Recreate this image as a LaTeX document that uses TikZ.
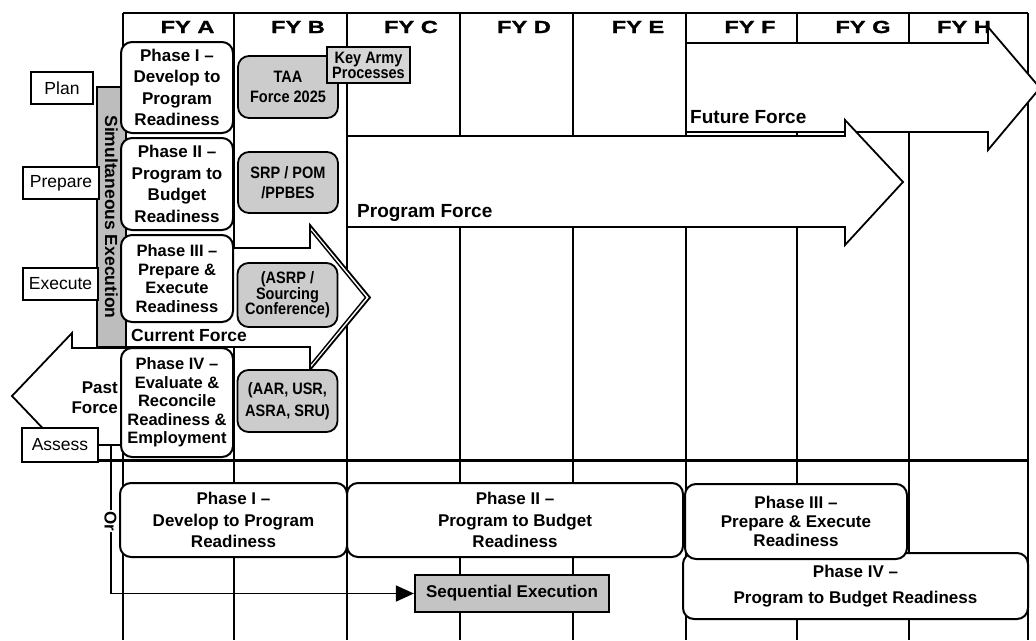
\documentclass[tikz,border=0pt]{standalone}
\usepackage{fontspec}
\setmainfont{Liberation Sans}
\newfontfamily\fyfont[FakeStretch=1.35,FakeBold=1.2]{Liberation Sans}
\newfontfamily\condfont[FakeStretch=0.88]{Liberation Sans}
\usetikzlibrary{arrows.meta}
\definecolor{boxgray}{gray}{0.80}
\definecolor{bargray}{gray}{0.74}
\definecolor{keygray}{gray}{0.84}
\definecolor{seqgray}{gray}{0.77}
\begin{document}
\begin{tikzpicture}[x=1pt,y=-1pt,
  gridline/.style={line width=1.5pt},
  phasebox/.style={draw, line width=2pt, rounded corners=11pt, fill=white, align=center, inner sep=0pt, font=\fontsize{17}{21.5}\selectfont\bfseries},
  graybox/.style={draw, line width=1.8pt, rounded corners=11pt, fill=boxgray, align=center, inner sep=0pt, font=\fontsize{16.5}{20}\condfont\bfseries},
  labelbox/.style={draw, line width=1.8pt, fill=white, inner sep=0pt, font=\fontsize{17.5}{20}\selectfont},
  bigarrow/.style={draw, line width=1.8pt, fill=white, line join=miter},
  fylabel/.style={font=\fontsize{17.5}{20}\fyfont\bfseries},
  forcetext/.style={font=\fontsize{19}{22}\selectfont\bfseries, inner sep=0pt}]
\clip (0,0) rectangle (1036,640);
\fill[white] (0,0) rectangle (1036,640);
% grid
\foreach \x in {123,234,347,460,573,686,797,909,1028}
  \draw[gridline] (\x,13) -- (\x,640);
\draw[gridline] (123,13) -- (1028,13);
\draw[line width=3pt] (98,460) -- (1028,460);
% year labels
\node[fylabel] (fya) at (187.5,27) {FY A};
\node[fylabel] (fyb) at (298,27) {FY B};
\node[fylabel] (fyc) at (411,27) {FY C};
\node[fylabel] (fyd) at (524,27) {FY D};
\node[fylabel] (fye) at (638,27) {FY E};
\node[fylabel] (fyf) at (750,27) {FY F};
\node[fylabel] (fyg) at (863,27) {FY G};
\node[fylabel] (fyh) at (964,27) {FY H};
% future force arrow
\draw[bigarrow] (686,43) -- (988,43) -- (988,27) -- (1040,88) -- (988,150) -- (988,132) -- (686,132) -- cycle;
\node[forcetext, anchor=west] (future) at (690,117) {Future Force};
% program force arrow
\draw[bigarrow] (347,136) -- (845,136) -- (845,120) -- (903,182) -- (845,245) -- (845,227) -- (347,227) -- cycle;
\node[forcetext, anchor=west] (program) at (357,213) {Program Force};
% past force arrow
\draw[bigarrow] (126,348) -- (72,348) -- (72,333) -- (12,396) -- (72,459) -- (72,445) -- (126,445) -- cycle;
\node[font=\fontsize{17}{20}\selectfont\bfseries, align=right, anchor=east, inner sep=0pt] (past) at (118,398) {Past\\Force};
% current force arrow
\draw[bigarrow] (126,248) -- (310,248) -- (310,225) -- (370,297.5) -- (310,370) -- (310,347) -- (126,347) -- cycle;
\draw[line width=1.4pt, line join=miter] (311,231) -- (365.5,297.5) -- (311,364);
\node[font=\fontsize{17.5}{20}\selectfont\bfseries, anchor=west, inner sep=0pt] (current) at (131,335) {Current Force};
% simultaneous execution bar
\node[draw, line width=1.5pt, fill=bargray, rotate=-90, minimum width=260pt, minimum height=29pt, inner sep=0pt, font=\fontsize{17.5}{20}\selectfont\bfseries] (sim) at (111.5,217) {Simultaneous Execution};
% phase boxes (upper)
\node[phasebox, minimum width=112pt, minimum height=91pt] (p1) at (177,87.5) {Phase I –\\Develop to\\Program\\Readiness};
\node[phasebox, minimum width=112pt, minimum height=92pt] (p2) at (177,184) {Phase II –\\Program to\\Budget\\Readiness};
\node[phasebox, minimum width=112pt, minimum height=87pt, font=\fontsize{16.5}{18.7}\selectfont\bfseries] (p3) at (177,278.5) {Phase III –\\Prepare \&\\Execute\\Readiness};
\node[phasebox, minimum width=112pt, minimum height=109pt, font=\fontsize{16.5}{18.5}\selectfont\bfseries] (p4) at (177,402.5) {Phase IV –\\Evaluate \&\\Reconcile\\Readiness \&\\Employment};
% key army processes boxes
\node[graybox, minimum width=100pt, minimum height=62pt] (taa) at (288,87) {TAA\\Force 2025};
\node[graybox, minimum width=100pt, minimum height=61pt] (srp) at (288,182.5) {SRP / POM\\/PPBES};
\node[graybox, minimum width=100pt, minimum height=64pt, font=\fontsize{16.5}{15.5}\condfont\bfseries] (asrp) at (287.5,295) {(ASRP /\\Sourcing\\Conference)};
\node[graybox, minimum width=100pt, minimum height=62pt, font=\fontsize{16.5}{21.5}\condfont\bfseries] (aar) at (287.5,401) {(AAR, USR,\\ASRA, SRU)};
\node[draw, line width=1.8pt, fill=keygray, minimum width=83pt, minimum height=36pt, inner sep=0pt, align=center, font=\fontsize{16.5}{15}\condfont\bfseries] (key) at (368.5,65) {Key Army\\Processes};
% left labels
\node[labelbox, minimum width=62pt, minimum height=32pt] (plan) at (62,88) {Plan};
\node[labelbox, minimum width=76pt, minimum height=32pt] (prepare) at (61,183) {Prepare};
\node[labelbox, minimum width=75pt, minimum height=32pt] (execute) at (60.5,284) {Execute};
\node[labelbox, minimum width=76pt, minimum height=34pt] (assess) at (60,445) {Assess};
% lower section
\node[phasebox, minimum width=227pt, minimum height=74pt] (bp1) at (233.5,520) {Phase I –\\Develop to Program\\Readiness};
\node[phasebox, minimum width=336pt, minimum height=74pt] (bp2) at (515,520) {Phase II –\\Program to Budget\\Readiness};
\node[phasebox, minimum width=345pt, minimum height=66pt, font=\fontsize{17}{26}\selectfont\bfseries] (bp4) at (855.5,586) {Phase IV –\\Program to Budget Readiness};
\node[phasebox, minimum width=222pt, minimum height=75pt, font=\fontsize{17}{19}\selectfont\bfseries] (bp3) at (796,521.5) {Phase III –\\Prepare \& Execute\\Readiness};
\node[draw, line width=2.2pt, fill=seqgray, minimum width=194pt, minimum height=37pt, inner sep=0pt, font=\fontsize{17}{20}\selectfont\bfseries] (seq) at (512,593.5) {Sequential Execution};
\draw[line width=1.5pt, -{Triangle[length=18pt,width=16pt]}] (assess.east) -- ++(12,0) |- (seq.west);
\node[fill=white, inner sep=1pt, rotate=-90, font=\fontsize{17}{20}\selectfont\bfseries] (or) at (110.5,521) {Or};
\end{tikzpicture}
\end{document}
